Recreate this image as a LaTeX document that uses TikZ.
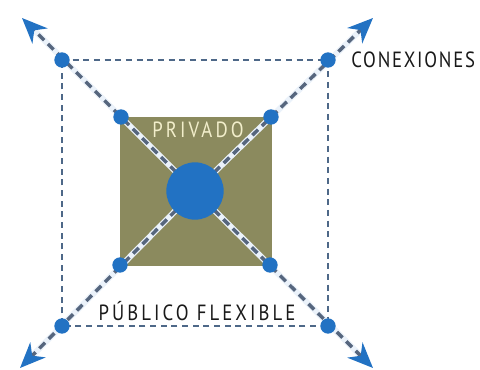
\documentclass[tikz,border=0pt]{standalone}
\usepackage{fontspec}
\setmainfont{PT Sans}
\newfontfamily\lblfont[LetterSpace=8, FakeStretch=0.85]{PT Sans}
\newfontfamily\widefont[LetterSpace=14, FakeStretch=0.85]{PT Sans}
\usepackage{xcolor}
\usepackage{tikz}
\usetikzlibrary{arrows.meta,positioning,calc}
\definecolor{olivebox}{HTML}{8B8A5E}
\definecolor{dotblue}{HTML}{2272C3}
\definecolor{dashgray}{HTML}{56667E}
\definecolor{cream}{HTML}{F2EECB}
\tikzset{
  dot/.style={circle, fill=dotblue, inner sep=0pt, minimum size=11.5pt},
  hub/.style={circle, fill=dotblue, inner sep=0pt, minimum size=43pt},
  diag/.style={draw=dashgray, line width=2.6pt, dash pattern=on 6pt off 4pt,
    -{Stealth[length=19pt, width=16pt, inset=6pt, color=dotblue]}},
  halo/.style={draw=dotblue!9, line width=4.5pt},
  edge/.style={draw=dashgray!85!dotblue, line width=1.9pt, dash pattern=on 4.5pt off 3.5pt},
  lbl/.style={font=\lblfont\fontsize{16.5}{16.5}\selectfont, inner sep=0pt},
  widelbl/.style={font=\widefont\fontsize{16.5}{16.5}\selectfont, inner sep=0pt}}

\begin{document}
\begin{tikzpicture}[x=0.75pt, y=-0.75pt]
  \useasboundingbox (0,0) rectangle (480,370);
  % private core
  \fill[olivebox] (120,117) rectangle (272,266);
  \coordinate (c) at (195,191);
  \coordinate (t1) at (22,18); \coordinate (t2) at (373,18);
  \coordinate (t3) at (20,368); \coordinate (t4) at (373,368);
  \coordinate (o1) at (62,60); \coordinate (o2) at (328,60);
  \coordinate (o3) at (62,326); \coordinate (o4) at (328,326);
  \coordinate (i1) at (121,117); \coordinate (i2) at (271,117);
  \coordinate (i3) at (120,265); \coordinate (i4) at (270,265);
  % flexible ring
  \draw[edge] (o1) -- (o2) -- (o4) -- (o3) -- cycle;
  % connections
  \foreach \k in {1,...,4} {
    \draw[halo] (c) -- ($(t\k)!12pt!(c)$);
    \draw[diag] (c) -- (t\k);
  }
  \node[hub] (hub) at (c) {};
  \foreach \k in {1,...,4} {
    \node[dot] (od\k) at (o\k) {};
    \node[dot] (id\k) at (i\k) {};
  }
  \node[widelbl, text=cream] (priv) at (198,130) {PRIVADO};
  \node[lbl, text=black!90, anchor=west] (conex) at (351,60) {CONEXIONES};
  \node[widelbl, text=black!90] (pub) at (197,311) {PÚBLICO FLEXIBLE};
\end{tikzpicture}
\end{document}
